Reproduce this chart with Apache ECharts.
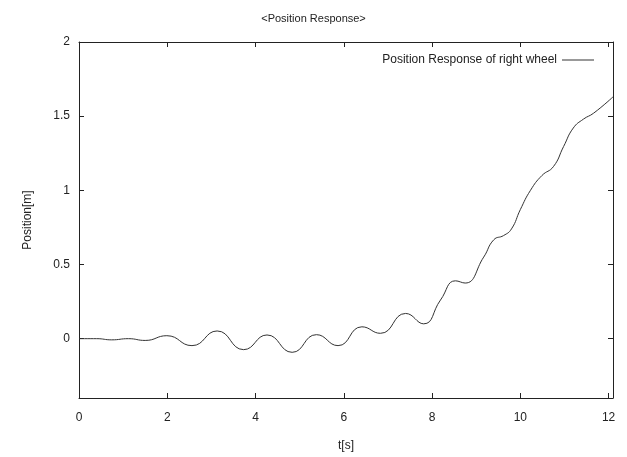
<!DOCTYPE html>
<html>
<head>
<meta charset="utf-8">
<script src="https://cdn.jsdelivr.net/npm/echarts@6/dist/echarts.min.js"></script>
<style>
  html, body { margin: 0; padding: 0; background: #fff; }
  #chart { width: 627px; height: 457px; }
</style>
</head>
<body>
<div id="chart"></div>
<script>
// Position of the right wheel over time
const timeS = [0, 0.4, 0.74, 1.12, 1.5, 1.99, 2.56, 3.13, 3.73, 4.26, 4.83, 5.38, 5.87,
  6.41, 6.83, 7.4, 7.81, 8.19, 8.53, 8.75, 9.17, 9.4, 9.62, 9.8, 10.0, 10.23, 10.49, 10.75,
  10.98, 11.2, 11.43, 11.66, 12.1];
const positionM = [0, 0, -0.008, 0, -0.012, 0.02, -0.047, 0.052, -0.074, 0.025, -0.092, 0.027, -0.047,
  0.08, 0.036, 0.17, 0.10, 0.26, 0.39, 0.375, 0.55, 0.667, 0.695, 0.74, 0.87, 1.0, 1.1, 1.16,
  1.295, 1.42, 1.48, 1.52, 1.63];
const xTicks = [0, 2, 4, 6, 8, 10, 12];
const yTicks = [0, 0.5, 1, 1.5, 2];

const FONT = 'Liberation Sans';
const chart = echarts.init(document.getElementById('chart'));

const baseX = {
  type: 'value', min: 0, max: 12.1,
  axisLine: { show: true, onZero: false, lineStyle: { color: '#222', width: 1 } },
  axisTick: { show: true, inside: true, length: 5, customValues: xTicks, lineStyle: { color: '#222' } },
  splitLine: { show: false }
};
const baseY = {
  type: 'value', min: -0.4, max: 2,
  axisLine: { show: true, onZero: false, lineStyle: { color: '#222', width: 1 } },
  axisTick: { show: true, inside: true, length: 5, customValues: yTicks, lineStyle: { color: '#222' } },
  splitLine: { show: false }
};

chart.setOption({
  animation: false,
  backgroundColor: '#fff',
  title: {
    text: '<Position Response>',
    left: 'center', top: 8,
    textStyle: { fontFamily: FONT, fontSize: 11, fontWeight: 'normal', color: '#222' }
  },
  legend: {
    right: 28, top: 49,
    align: 'right',
    icon: 'rect',
    itemWidth: 32, itemHeight: 1, itemGap: 5,
    itemStyle: { color: '#333' },
    textStyle: { fontFamily: FONT, fontSize: 12, color: '#222' },
    data: ['Position Response of right wheel']
  },
  grid: { left: 79, right: 14, top: 42, bottom: 59 },
  xAxis: [
    Object.assign({}, baseX, {
      position: 'bottom',
      name: 't[s]', nameLocation: 'middle', nameGap: 42,
      nameTextStyle: { fontFamily: FONT, fontSize: 12, color: '#222' },
      axisLabel: { customValues: xTicks, margin: 14, fontFamily: FONT, fontSize: 12, color: '#222' }
    }),
    Object.assign({}, baseX, { position: 'top', axisLabel: { show: false } })
  ],
  yAxis: [
    Object.assign({}, baseY, {
      position: 'left',
      name: 'Position[m]', nameLocation: 'middle', nameGap: 45, nameRotate: 90,
      nameTextStyle: { fontFamily: FONT, fontSize: 12, color: '#222' },
      axisLabel: { customValues: yTicks, margin: 9, fontFamily: FONT, fontSize: 12, color: '#222' }
    }),
    Object.assign({}, baseY, { position: 'right', axisLabel: { show: false } })
  ],
  series: [{
    name: 'Position Response of right wheel',
    type: 'line',
    xAxisIndex: 0, yAxisIndex: 0,
    data: timeS.map((t, i) => [t, positionM[i]]),
    smooth: 0.5,
    symbol: 'none',
    lineStyle: { color: '#333', width: 1 },
    itemStyle: { color: '#333' }
  }]
});
</script>
</body>
</html>
